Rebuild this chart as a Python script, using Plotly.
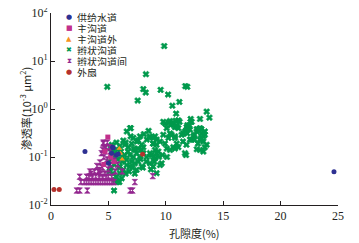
import plotly.graph_objects as go

# ---------------- data ----------------
supply_x = [2.96, 5.37, 5.43, 5.28, 5.7, 5.86, 5.0, 24.65]
supply_y = [0.13, 0.16, 0.155, 0.12, 0.11, 0.115, 0.074, 0.049]

main_x = [4.95, 4.7, 5.2, 5.5, 4.6]
main_y = [0.26, 0.13, 0.10, 0.08, 0.07]

mainout_x = [5.95, 6.2, 6.05]
mainout_y = [0.15, 0.09, 0.12]

braid_x = [9.86, 8.27, 4.9, 8.04, 8.25, 9.55, 10.2, 11.7, 11.87, 7.55, 10.57, 11.18, 10.9, 13.56, 13.8,
           12.17, 12.17, 12.98, 9.78, 9.93, 10.37, 10.6, 11.09, 11.87, 11.96, 10.8, 12.7, 13.1, 6.94,
           10.28, 10.42, 10.65, 10.86, 10.95, 11.09, 11.82, 12.05, 12.1, 11.87, 11.53, 11.38, 11.67, 12.7,
           12.9, 13.1, 13.27, 13.4, 12.4, 12.5, 12.25, 12.98, 13.27, 13.4, 12.7, 13.27, 11.76, 10.5, 10.8,
           10.37, 10.22, 9.2, 9.5, 8.9, 8.6, 9.93, 10.08, 10.37, 10.65, 10.8, 10.95, 11.09, 9.06, 9.35,
           8.77, 9.06, 8.62, 9.64, 9.5,
           6.6, 6.94, 7.47, 7.9, 8.34, 8.62, 8.9, 9.06, 6.45, 6.73, 7.03, 7.3, 7.6, 7.9, 8.04, 6.87, 7.17,
           7.46, 7.75, 8.04, 8.34, 8.62, 8.9, 9.2, 6.6, 7.03, 7.3, 7.6, 7.9, 7.46, 6.88, 6.6, 6.0, 6.3, 6.0,
           5.7, 5.57, 5.86, 6.16, 5.49, 9.2, 8.9,
           6.9, 7.17, 7.75, 8.9, 9.2, 9.78, 10.08, 10.95, 10.8, 11.5, 11.8, 12.8, 12.5, 12.1, 11.67, 12.98,
           13.56, 12.25, 11.2, 11.8, 12.98, 13.4, 13.1,
           5.2, 5.4, 5.6, 5.8, 5.5, 5.9, 6.2, 6.4, 6.1, 5.3, 5.7, 6.3, 5.05, 5.25, 5.1, 5.4, 5.75, 5.95,
           6.5, 6.8, 7.1, 7.3, 5.5, 6.0, 6.7, 7.2, 6.2, 5.8, 6.5, 7.6, 8.1, 8.5, 7.8, 8.3, 9.7, 10.1, 9.4,
           8.0, 8.7, 9.0]
braid_y = [20.5, 5.3, 2.9, 2.6, 2.2, 2.5, 2.0, 3.0, 2.9, 1.5, 1.17, 1.4, 0.8, 0.88, 0.66,
           0.62, 0.54, 0.62, 0.54, 0.5, 0.56, 0.52, 0.58, 0.46, 0.42, 0.42, 0.38, 0.38, 0.40,
           0.53, 0.46, 0.50, 0.57, 0.44, 0.40, 0.42, 0.46, 0.37, 0.31, 0.31, 0.29, 0.34, 0.34,
           0.38, 0.31, 0.27, 0.34, 0.27, 0.29, 0.23, 0.23, 0.21, 0.16, 0.145, 0.13, 0.11, 0.29, 0.27,
           0.31, 0.25, 0.23, 0.21, 0.19, 0.27, 0.19, 0.15, 0.14, 0.16, 0.15, 0.19, 0.16, 0.14, 0.13,
           0.11, 0.094, 0.074, 0.074, 0.068,
           0.34, 0.27, 0.21, 0.18, 0.23, 0.25, 0.19, 0.27, 0.18, 0.16, 0.19, 0.14, 0.15, 0.14, 0.16, 0.11, 0.10,
           0.12, 0.10, 0.12, 0.10, 0.12, 0.10, 0.12, 0.087, 0.08, 0.074, 0.08, 0.063, 0.054, 0.063, 0.068, 0.063,
           0.054, 0.046, 0.039, 0.033, 0.031, 0.036, 0.020, 0.046, 0.063,
           0.40, 0.25, 0.27, 0.25, 0.18, 0.29, 0.40, 0.43, 0.25, 0.21, 0.18, 0.19, 0.23, 0.23, 0.12, 0.14,
           0.18, 0.54, 0.54, 0.37, 0.40, 0.29, 0.25,
           0.15, 0.13, 0.10, 0.09, 0.07, 0.06, 0.08, 0.11, 0.13, 0.18, 0.2, 0.22, 0.08, 0.06, 0.05, 0.045,
           0.03, 0.03, 0.045, 0.05, 0.06, 0.045, 0.11, 0.17, 0.13, 0.15, 0.10, 0.14, 0.2, 0.22, 0.3, 0.35,
           0.09, 0.08, 0.11, 0.10, 0.10, 0.06, 0.055, 0.08]

inter_x = [2.6, 2.9, 3.1, 3.3, 3.5, 3.7, 3.9, 4.1, 4.3, 4.5, 4.7, 4.9, 5.1, 5.3, 5.5, 7.3,
           2.5, 3.1, 3.3, 3.6, 3.9, 4.2, 4.5, 4.8, 5.0, 5.3,
           2.24, 2.5, 3.16, 6.9, 7.1,
           8.86, 4.4, 4.27, 4.56, 4.8, 5.14, 4.6, 4.9, 5.2, 4.5, 4.1, 3.8, 5.6, 5.0, 4.0, 5.5, 5.8,
           4.7, 4.3, 5.3, 4.9, 5.1, 4.5, 6.2, 3.5, 4.56, 4.7, 3.4, 4.27]
inter_y = [0.03, 0.03, 0.03, 0.03, 0.03, 0.03, 0.03, 0.03, 0.03, 0.03, 0.03, 0.03, 0.03, 0.03, 0.03, 0.03,
           0.039, 0.039, 0.039, 0.039, 0.039, 0.039, 0.039, 0.039, 0.039, 0.039,
           0.02, 0.02, 0.02, 0.02, 0.02,
           0.04, 0.12, 0.077, 0.20, 0.16, 0.13, 0.10, 0.09, 0.07, 0.06, 0.05, 0.05, 0.05, 0.055, 0.065, 0.085, 0.07,
           0.045, 0.045, 0.10, 0.20, 0.16, 0.14, 0.05, 0.045, 0.19, 0.15, 0.05, 0.054]

fan_x = [0.26, 0.72, 7.98]
fan_y = [0.021, 0.021, 0.114]

x_ticks = [0, 5, 10, 15, 20, 25]
y_ticks = [0.01, 0.1, 1, 10, 100]
y_ticktext = ["10<sup>-2</sup>", "10<sup>-1</sup>", "10<sup>0</sup>", "10<sup>1</sup>", "10<sup>2</sup>"]

names = ["供给水道", "主沟道", "主沟道外", "辫状沟道", "辫状沟道间", "外扇"]
colors = ["#2E3192", "#C2308C", "#F7931E", "#00994C", "#93278F", "#B5312D"]
symbols = ["circle", "square", "triangle-up", "x", "hourglass", "circle"]
sizes = [5, 5, 5, 5.5, 5.5, 5]
legend_glyphs = ["●", "■", "▲", "✖", "⧗", "●"]

series = [(supply_x, supply_y), (main_x, main_y), (mainout_x, mainout_y),
          (braid_x, braid_y), (inter_x, inter_y), (fan_x, fan_y)]

# ---------------- figure ----------------
fig = go.Figure()
draw_order = [3, 4, 1, 2, 0, 5]
for i in draw_order:
    xs, ys = series[i]
    fig.add_trace(go.Scatter(
        x=xs, y=ys, mode="markers", name=names[i], showlegend=False,
        marker=dict(symbol=symbols[i], size=sizes[i], color=colors[i],
                    line=dict(width=0.6 if symbols[i] in ("x", "hourglass") else 0,
                              color=colors[i])),
    ))

serif = "'Liberation Serif', 'Noto Sans CJK SC', serif"
cjk = "'Noto Sans CJK SC', 'Liberation Serif', serif"

# page body has an 8px margin, so the figure is 8px smaller and margins shifted
fig.update_layout(
    width=351, height=235,
    margin=dict(l=43, r=21, t=5, b=38, autoexpand=False),
    paper_bgcolor="white", plot_bgcolor="white",
    font=dict(family=serif, size=12, color="#231F20"),
)
fig.update_xaxes(
    range=[0, 25], tickvals=x_ticks, ticks="inside", ticklen=4, tickwidth=1,
    tickcolor="#231F20", showline=True, linecolor="#231F20", linewidth=1,
    showgrid=False, zeroline=False, tickfont=dict(family=serif, size=12),
    automargin=False, ticklabeloverflow="allow",
)
fig.update_yaxes(
    type="log", range=[-2, 2], tickvals=y_ticks, ticktext=y_ticktext,
    ticks="inside", ticklen=4, tickwidth=1, tickcolor="#231F20",
    showline=True, linecolor="#231F20", linewidth=1, showgrid=False, zeroline=False,
    tickfont=dict(family=serif, size=12), automargin=False, ticklabeloverflow="allow",
)

# axis titles
fig.add_annotation(xref="paper", yref="paper", x=0.5, y=-0.145, text="孔隙度(%)",
                   showarrow=False, xanchor="center", yanchor="middle",
                   font=dict(family=cjk, size=11, color="#231F20"))
fig.add_annotation(xref="paper", yref="paper", x=-0.09, y=0.5,
                   text="渗透率(10<sup>-3</sup> μm<sup>2</sup>)", textangle=-90,
                   showarrow=False, xanchor="center", yanchor="middle",
                   font=dict(family=cjk, size=11, color="#231F20"))

# compact legend drawn as text
legend_top = 0.979
legend_step = 0.0573
for k in range(len(names)):
    yk = legend_top - k * legend_step
    fig.add_annotation(xref="paper", yref="paper", x=0.063, y=yk, text=legend_glyphs[k],
                       showarrow=False, xanchor="center", yanchor="middle", borderpad=0,
                       height=10,
                       font=dict(family="DejaVu Sans", size=7, color=colors[k]))
    fig.add_annotation(xref="paper", yref="paper", x=0.087, y=yk, text=names[k],
                       showarrow=False, xanchor="left", yanchor="middle", borderpad=0,
                       height=10,
                       font=dict(family=cjk, size=10, color="#231F20"))

fig.write_html("out.html")
